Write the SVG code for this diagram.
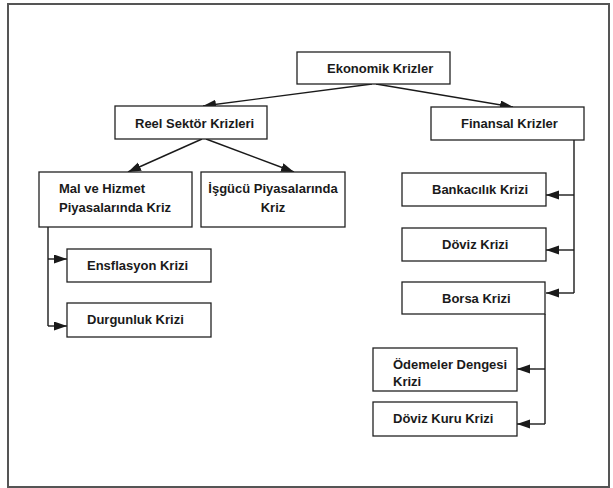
<svg xmlns="http://www.w3.org/2000/svg" width="613" height="488" viewBox="0 0 613 488">
<style>
.box{fill:#fff;stroke:#222;stroke-width:1.3}
.t{font-family:"Liberation Sans",Arial,sans-serif;font-weight:bold;font-size:13px;fill:#1a1a1a}
.c{fill:none;stroke:#1a1a1a;stroke-width:1.4}
</style>
<defs>
<marker id="ah" markerUnits="userSpaceOnUse" markerWidth="14" markerHeight="10" refX="13" refY="4.5" orient="auto">
<path d="M0,0 L13,4.5 L0,9 z" fill="#1a1a1a"/>
</marker>
</defs>
<rect x="0" y="0" width="613" height="488" fill="#fff"/>
<rect x="8" y="4" width="601" height="483" fill="none" stroke="#555" stroke-width="2"/>
<g id="connectors">
<line class="c" x1="372" y1="84" x2="203" y2="106" marker-end="url(#ah)"/>
<line class="c" x1="376" y1="84" x2="513" y2="107" marker-end="url(#ah)"/>
<line class="c" x1="202" y1="139" x2="128" y2="172" marker-end="url(#ah)"/>
<line class="c" x1="206" y1="139" x2="294" y2="172" marker-end="url(#ah)"/>
<polyline class="c" points="48,227 48,326"/>
<line class="c" x1="48" y1="259" x2="67" y2="259" marker-end="url(#ah)"/>
<line class="c" x1="48" y1="326" x2="67" y2="326" marker-end="url(#ah)"/>
<polyline class="c" points="574,140 574,293"/>
<line class="c" x1="574" y1="195" x2="546" y2="195" marker-end="url(#ah)"/>
<line class="c" x1="574" y1="250" x2="546" y2="250" marker-end="url(#ah)"/>
<line class="c" x1="574" y1="293" x2="546" y2="293" marker-end="url(#ah)"/>
<polyline class="c" points="545,314 545,424"/>
<line class="c" x1="545" y1="369" x2="517" y2="369" marker-end="url(#ah)"/>
<line class="c" x1="545" y1="424" x2="517" y2="424" marker-end="url(#ah)"/>
</g>
<g id="ekonomik"><rect class="box" x="297" y="52" width="153" height="32"/><text class="t" x="327" y="73">Ekonomik Krizler</text></g>
<g id="reel"><rect class="box" x="115" y="106" width="152" height="33"/><text class="t" x="135" y="128">Reel Sektör Krizleri</text></g>
<g id="finansal"><rect class="box" x="431" y="107" width="153" height="33"/><text class="t" x="461" y="128">Finansal Krizler</text></g>
<g id="malhizmet"><rect class="box" x="39" y="172" width="153" height="55"/><text class="t" x="59" y="193">Mal ve Hizmet</text><text class="t" x="59" y="212">Piyasalarında Kriz</text></g>
<g id="isgucu"><rect class="box" x="201" y="172" width="144" height="55"/><text class="t" x="273" y="193" text-anchor="middle">İşgücü Piyasalarında</text><text class="t" x="273" y="212" text-anchor="middle">Kriz</text></g>
<g id="enflasyon"><rect class="box" x="67" y="249" width="144" height="33"/><text class="t" x="87" y="270">Ensflasyon Krizi</text></g>
<g id="durgunluk"><rect class="box" x="67" y="303" width="144" height="34"/><text class="t" x="87" y="324">Durgunluk Krizi</text></g>
<g id="bankacilik"><rect class="box" x="402" y="173" width="144" height="33"/><text class="t" x="432" y="194">Bankacılık Krizi</text></g>
<g id="doviz"><rect class="box" x="402" y="228" width="144" height="33"/><text class="t" x="442" y="249">Döviz Krizi</text></g>
<g id="borsa"><rect class="box" x="402" y="282" width="143" height="32"/><text class="t" x="442" y="303">Borsa Krizi</text></g>
<g id="odemeler"><rect class="box" x="373" y="348" width="144" height="43"/><text class="t" x="393" y="369">Ödemeler Dengesi</text><text class="t" x="393" y="386">Krizi</text></g>
<g id="dovizkuru"><rect class="box" x="373" y="402" width="144" height="34"/><text class="t" x="393" y="423">Döviz Kuru Krizi</text></g>
</svg>
